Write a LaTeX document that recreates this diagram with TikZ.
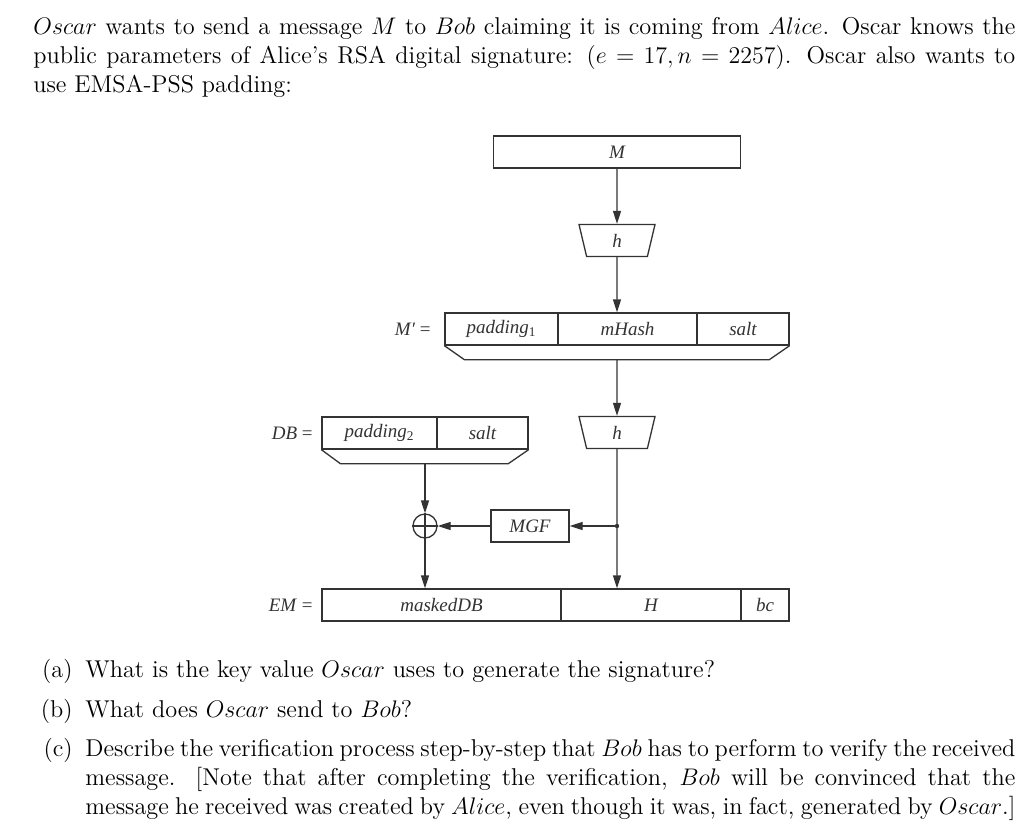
\documentclass[tikz,border=0pt]{standalone}
\usepackage{fontspec}
\newfontfamily\figfont{Liberation Serif}
\usetikzlibrary{shapes.geometric,arrows.meta}

\begin{document}
\begin{tikzpicture}
		[x=0.5pt,y=-0.5pt]
			\tikzstyle{every node}=[inner sep=0pt, text=black!80,
		font=\figfont\itshape\fontsize{9.5}{11}\selectfont]
			\tikzstyle{field}=[rectangle, draw=black!80, line width=0.65pt, minimum height=16pt]
			\tikzstyle{hashbox}=[trapezium, draw=black!80, line width=0.65pt, trapezium angle=60,
		shape border rotate=180, trapezium stretches body, minimum width=38pt, minimum height=16pt]
			\tikzstyle{skirt}=[draw=black!80, line width=0.65pt]
			\tikzstyle{prose}=[font=\fontsize{12.15}{14.5}\selectfont, text=black, align=justify, anchor=north west]
			\tikzstyle{tag}=[font=\fontsize{12.15}{14.5}\selectfont, text=black, anchor=base east]
			\tikzstyle{arw}=[draw=black!80, line width=0.65pt, -{Triangle[length=6.5pt,width=4pt]}]
		\fill[white] (0,0) rectangle (1033,836);
		\useasboundingbox (0,0) rectangle (1033,836);
		%-----text
		 \node[prose, text width=491pt] (intro) at (33,16.5) {$Oscar$ wants to send a message $M$ to $Bob$ claiming it is coming from $Alice$. Oscar knows the public parameters of Alice's RSA digital signature: $(e=17, n=2257)$. Oscar also wants to\linebreak use EMSA-PSS padding:};
		%-----M, M'
		 \node[field, minimum width=123.5pt] (mbox) at (617,152) {M};
		 \node[hashbox] (h1) at (617,240.5) {h};
		 \node[anchor=east] (mlab) at (431,329) {M′ \textup{=}};
		 \node[field, minimum width=56.5pt] (pad1) at (501.5,329) {padding\textsubscript{\textup{1}}};
		 \node[field, minimum width=69.5pt] (mhash) at (627.5,329) {mHash};
		 \node[field, minimum width=46pt] (salt1) at (743,329) {salt};
		 \draw[skirt] (pad1.south west) -- ++(20,14) -- ++(305,0) -- (salt1.south east);
		 \coordinate (mtrap) at (617,359);
		%-----DB
		 \node[hashbox] (h2) at (617,432.5) {h};
		 \node[anchor=east] (dblab) at (313,433) {DB \textup{=}};
		 \node[field, minimum width=57.5pt] (pad2) at (379.5,433) {padding\textsubscript{\textup{2}}};
		 \node[field, minimum width=45.5pt] (salt2) at (482.5,433) {salt};
		 \draw[skirt] (pad2.south west) -- ++(19,14) -- ++(168,0) -- (salt2.south east);
		 \coordinate (dbtrap) at (425,463);
		 \node[circle, draw=black!80, line width=0.65pt, minimum size=12pt] (xor) at (425,526) {};
		 \node[field, minimum width=39pt] (mgf) at (530,526) {MGF};
		 \coordinate (split) at (617,526);
		%-----EM
		 \node[anchor=east] (emlab) at (313,605) {EM \textup{=}};
		 \node[field, minimum width=119.5pt] (masked) at (441.5,605) {maskedDB};
		 \node[field, minimum width=90pt] (hfld) at (651,605) {H};
		 \node[field, minimum width=24pt] (bc) at (765,605) {bc};
		 
		 \draw[black!80, line width=0.65pt] (xor.north) -- (xor.south) (xor.west) -- (xor.east);
		 \fill[black!80] (split) circle (2.2);
		 
		 \foreach \from/\to in {mbox/h1, h1/h1 |- mhash.north, mtrap/h2, h2/h2 |- hfld.north, split/mgf, mgf/xor, dbtrap/xor, xor/xor |- masked.north}
		 \draw[arw] (\from) -- (\to);
		 
		%-----questions
		 \node[tag] (la) at (73,677) {(a)};
		 \node[prose, text width=465pt] (qa) at (85,660) {What is the key value $Oscar$ uses to generate the signature?};
		 \node[tag] (lb) at (73,717) {(b)};
		 \node[prose, text width=465pt] (qb) at (85,700) {What does $Oscar$ send to $Bob$?};
		 \node[tag] (lc) at (73,756) {(c)};
		 \node[prose, text width=465pt] (qc) at (85,739) {Describe the verification process step-by-step that $Bob$ has to perform to verify the received message. [Note that after completing the verification, $Bob$ will be convinced that the message he received was created by $Alice$, even though it was, in fact, generated by $Oscar$.]};
		 
		\end{tikzpicture}
\end{document}
